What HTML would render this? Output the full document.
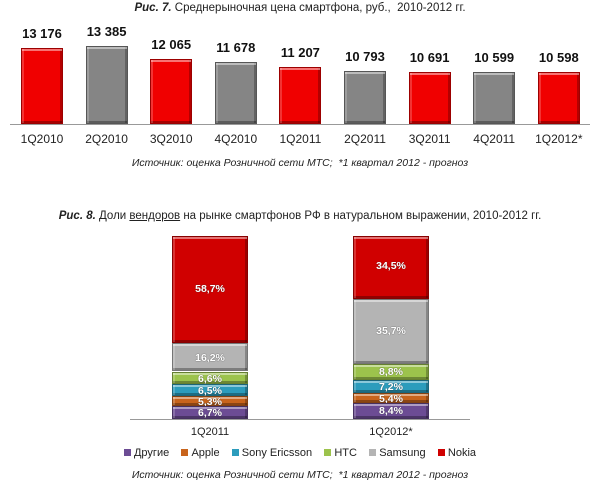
<!DOCTYPE html><html><head><meta charset="utf-8"><style>
body{margin:0;width:600px;height:487px;background:#fff;position:relative;font-family:"Liberation Sans","DejaVu Sans",sans-serif;overflow:hidden}
.a{position:absolute}
.t{font-size:11.5px;color:#222;white-space:nowrap}
.b{position:absolute;box-sizing:border-box;border:1px solid rgba(0,0,0,.35);box-shadow:inset 0 2px 0 rgba(255,255,255,.45),inset -2px 0 0 rgba(0,0,0,.25),inset 2px 0 0 rgba(255,255,255,.2),inset 0 -2px 0 rgba(0,0,0,.3)}
.v{position:absolute;width:64px;text-align:center;font-weight:bold;font-size:13px;color:#111}
.c{position:absolute;width:64px;text-align:center;font-size:12px;color:#222}
.s{position:absolute;left:0;right:0;text-align:center;color:#fff;font-weight:bold;font-size:10.5px;text-shadow:0 0 1px #333}
.lg{display:inline-block;width:7px;height:7px;margin-right:3px;vertical-align:0}
</style></head><body>
<div class="a t" style="left:0;width:600px;text-align:center;top:2px"><b><i>Рис. 7.</i></b> Среднерыночная цена смартфона, руб.,&nbsp; 2010-2012 гг.</div>
<div class="a" style="left:10px;top:124px;width:580px;height:1px;background:#999"></div>
<div id="topc"></div>
<div class="a t" style="left:0;width:600px;text-align:center;top:157px;font-style:italic;font-size:10.5px">Источник: оценка Розничной сети МТС;&nbsp; *1 квартал 2012 - прогноз</div>

<div class="a t" style="left:0;width:600px;text-align:center;top:210px"><b><i>Рис. 8.</i></b> Доли <u>вендоров</u> на рынке смартфонов РФ в натуральном выражении, 2010-2012 гг.</div>
<div class="a" style="left:130px;top:419px;width:340px;height:1px;background:#999"></div>

<div class="b" style="left:172px;top:236px;width:76px;height:107px;background:#d00000"><div class="s" style="top:46px">58,7%</div></div>
<div class="b" style="left:172px;top:343px;width:76px;height:28px;background:#b4b4b4"><div class="s" style="top:8px">16,2%</div></div>
<div class="b" style="left:172px;top:372px;width:76px;height:12px;background:#9cc34c"><div class="s" style="top:0">6,6%</div></div>
<div class="b" style="left:172px;top:384px;width:76px;height:12px;background:#2c9cbc"><div class="s" style="top:0">6,5%</div></div>
<div class="b" style="left:172px;top:396px;width:76px;height:10px;background:#c8641c"><div class="s" style="top:-1px">5,3%</div></div>
<div class="b" style="left:172px;top:406px;width:76px;height:13px;background:#6c4c94"><div class="s" style="top:0">6,7%</div></div>

<div class="b" style="left:353px;top:236px;width:76px;height:63px;background:#d00000"><div class="s" style="top:23px">34,5%</div></div>
<div class="b" style="left:353px;top:299px;width:76px;height:65px;background:#b4b4b4"><div class="s" style="top:25px">35,7%</div></div>
<div class="b" style="left:353px;top:364px;width:76px;height:16px;background:#9cc34c"><div class="s" style="top:1px">8,8%</div></div>
<div class="b" style="left:353px;top:380px;width:76px;height:13px;background:#2c9cbc"><div class="s" style="top:0">7,2%</div></div>
<div class="b" style="left:353px;top:393px;width:76px;height:10px;background:#c8641c"><div class="s" style="top:-1px">5,4%</div></div>
<div class="b" style="left:353px;top:403px;width:76px;height:16px;background:#6c4c94"><div class="s" style="top:1px">8,4%</div></div>

<div class="a t" style="left:170px;width:80px;text-align:center;top:426px;font-size:11px">1Q2011</div>
<div class="a t" style="left:351px;width:80px;text-align:center;top:426px;font-size:11px">1Q2012*</div>
<div class="a t" style="left:0;width:600px;text-align:center;top:447px;font-size:11px">
<span class="lg" style="background:#6c4c94"></span>Другие&nbsp;&nbsp;&nbsp;&nbsp;<span class="lg" style="background:#c8641c"></span>Apple&nbsp;&nbsp;&nbsp;&nbsp;<span class="lg" style="background:#2c9cbc"></span>Sony Ericsson&nbsp;&nbsp;&nbsp;&nbsp;<span class="lg" style="background:#9cc34c"></span>HTC&nbsp;&nbsp;&nbsp;&nbsp;<span class="lg" style="background:#b4b4b4"></span>Samsung&nbsp;&nbsp;&nbsp;&nbsp;<span class="lg" style="background:#d00000"></span>Nokia</div>
<div class="a t" style="left:0;width:600px;text-align:center;top:469px;font-style:italic;font-size:10.5px">Источник: оценка Розничной сети МТС;&nbsp; *1 квартал 2012 - прогноз</div>
<script>
(function(){
var v=[13176,13385,12065,11678,11207,10793,10691,10599,10598],
l=["1Q2010","2Q2010","3Q2010","4Q2010","1Q2011","2Q2011","3Q2011","4Q2011","1Q2012*"],h="";
for(var i=0;i<9;i++){var x=21+i*64.6,ht=Math.round(78-(13385-v[i])*0.0095),ty=124-ht;
h+='<div class="b" style="left:'+x+'px;top:'+ty+'px;width:42px;height:'+ht+'px;background:'+(i%2?'#858585':'#f00000')+'"></div>';
h+='<div class="v" style="left:'+(x-11)+'px;top:'+(ty-22)+'px">'+v[i].toString().replace(/(\d\d)(\d{3})$/,'$1 $2')+'</div>';
h+='<div class="c" style="left:'+(x-11)+'px;top:132px">'+l[i]+'</div>';}
document.getElementById('topc').innerHTML=h;
})();
</script>
</body></html>
